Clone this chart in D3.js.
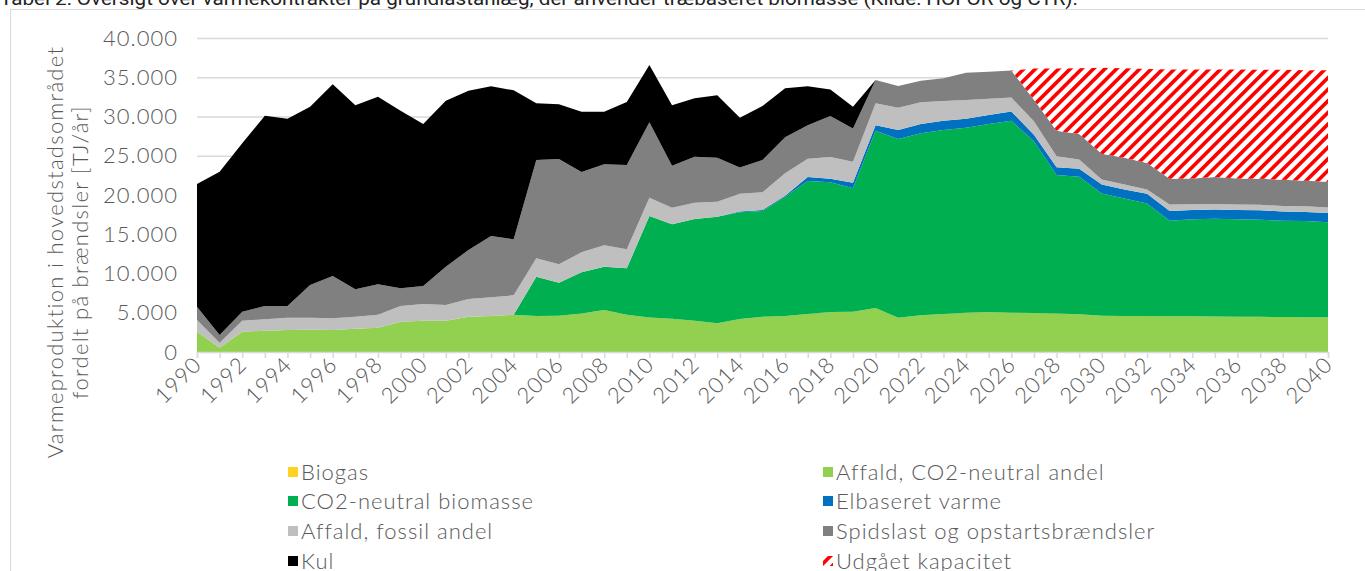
<!DOCTYPE html>
<html><head><meta charset="utf-8">
<script src="https://cdn.jsdelivr.net/npm/d3@7"></script>
<style>
html,body{margin:0;padding:0;background:#fff;overflow:hidden}
text{font-family:Lato,"Open Sans",sans-serif;font-weight:300;}
text.cap{font-family:Roboto,"Open Sans",sans-serif;font-weight:400;}
</style></head>
<body><svg id="c" width="1365" height="571"></svg>
<script>
const years = d3.range(1990, 2041);
const biogas = new Array(51).fill(0);
const affaldCO2 = [2590,550,2590,2720,2800,2850,2800,2950,3100,3860,3990,3990,4500,4590,4750,4590,4620,4920,5350,4750,4410,4250,3990,3650,4200,4500,4590,4840,5100,5140,5610,4370,4670,4840,5010,5100,5000,4970,4900,4820,4620,4600,4580,4560,4540,4520,4500,4480,4460,4440,4420];
const biomasse = [0,0,0,0,0,0,0,0,0,0,0,0,0,0,0,5010,4210,5230,5520,5910,12920,12010,12950,13590,13590,13460,15200,16940,16520,15710,22580,22760,23190,23440,23570,23940,24460,21870,17640,17500,15580,14970,14350,12170,12360,12440,12400,12370,12270,12240,12100];
const elvarme = [0,0,0,0,0,0,0,0,0,0,0,0,0,0,0,0,0,0,0,0,0,0,0,0,110,130,120,500,450,700,690,1150,1180,1180,1140,1150,1170,850,1000,1020,1140,1140,1220,1230,1190,1190,1190,1200,1180,1170,1190];
const affaldFossil = [1490,640,1400,1440,1570,1520,1490,1550,1650,2000,2120,2000,2250,2370,2470,2330,2340,2550,2720,2420,2330,2120,2080,1910,2250,2250,2850,2340,2760,2670,2800,2840,2770,2510,2380,2080,1790,1700,1400,1180,640,630,560,840,740,700,710,710,690,720,710];
const spidslast = [1690,980,1150,1700,1490,4170,5390,3480,3870,2250,2300,4880,6240,7820,7130,12530,13420,10230,10320,10740,9600,5350,5860,5600,3350,4120,4590,4250,5220,4250,2970,2770,2750,2890,3480,3440,3430,2750,3260,3250,3290,3390,3380,3260,3270,3430,3300,3300,3340,3230,3260];
const kul = [15630,20800,21450,24240,23860,22710,24420,23440,23900,22630,20630,21140,20300,19060,18980,7220,6960,7690,6710,8030,7300,7690,7430,7950,6350,6880,6240,4970,3400,2760,0,0,0,0,0,0,0,0,0,0,0,0,0,0,0,0,0,0,0,0,0];
const udgaaet = [0,0,0,0,0,0,0,0,0,0, 0,0,0,0,0,0,0,0,0,0, 0,0,0,0,0,0,0,0,0,0, 0,0,0,0,0,0,0, 3960,7900,8380,10930,11420,11960,13940,13900,13720,13900,13890,14010,14100,14220];
const seriesNames = ["Biogas","Affald, CO2-neutral andel","CO2-neutral biomasse","Elbaseret varme","Affald, fossil andel","Spidslast og opstartsbrændsler","Kul","Udgået kapacitet"];
const yTicks = [0,5000,10000,15000,20000,25000,30000,35000,40000];
const xTickYears = d3.range(1990, 2041, 2);
const caption = "Tabel 2: Oversigt over varmekontrakter på grundlastanlæg, der anvender træbaseret biomasse (Kilde: HOFOR og CTR).";
const yTitle = ["Varmeproduktion i hovedstadsområdet","fordelt på brændsler [TJ/år]"];

const seriesArrays = [biogas, affaldCO2, biomasse, elvarme, affaldFossil, spidslast, kul, udgaaet];
const colors = ["#ffd320","#92d050","#00b050","#0070c0","#bfbfbf","#808080","#000000","url(#hatch)"];

const rows = years.map((y,i)=>{const r={year:y}; seriesNames.forEach((n,k)=>r[n]=seriesArrays[k][i]); return r;});
const stack = d3.stack().keys(seriesNames)(rows);

const svg = d3.select("#c");
const defs = svg.append("defs");
const pat = defs.append("pattern").attr("id","hatch").attr("patternUnits","userSpaceOnUse")
  .attr("width",8.2).attr("height",8.2).attr("patternTransform","rotate(45)");
pat.append("rect").attr("width",8.2).attr("height",8.2).attr("fill","#fff");
pat.append("rect").attr("width",3.6).attr("height",8.2).attr("fill","#ff0000");

// frame
svg.append("rect").attr("x",10.5).attr("y",9.5).attr("width",1370).attr("height",600)
  .attr("fill","none").attr("stroke","#d9d9d9").attr("stroke-width",1);
svg.append("text").attr("class","cap").attr("x",0).attr("y",5).attr("font-size",18).attr("fill","#222")
  .attr("textLength",1078).attr("lengthAdjust","spacingAndGlyphs").text(caption);

const x = d3.scaleLinear().domain([1990,2040]).range([197,1328]);
const y = d3.scaleLinear().domain([0,40000]).range([352,38]);

// grid
svg.append("g").selectAll("line").data(yTicks.filter(d=>d>0)).join("line")
  .attr("x1",197).attr("x2",1328).attr("y1",d=>y(d)+0.5).attr("y2",d=>y(d)+0.5)
  .attr("stroke","#d9d9d9").attr("stroke-width",1.3);

const area = d3.area().x(d=>x(d.data.year)).y0(d=>y(d[0])).y1(d=>y(d[1]));
svg.append("g").selectAll("path").data(stack).join("path")
  .attr("d",area).attr("fill",(d,i)=>colors[i]);

const FS = 22, LS = 1;
// y axis labels
const yAxis = svg.append("g").attr("transform","translate(197,0)")
  .call(d3.axisLeft(y).tickValues(yTicks).tickSize(0).tickPadding(20)
    .tickFormat(d=>d===0?"0":d3.format(",")(d).replace(/,/g,".")));
yAxis.select(".domain").remove();
yAxis.selectAll("text").attr("font-size",FS).attr("fill","#595959")
  .attr("font-family","Lato,'Open Sans',sans-serif").attr("font-weight",300).attr("letter-spacing",LS).attr("dx",LS);

// x axis
const xAxis = svg.append("g").attr("transform","translate(0,352)")
  .call(d3.axisBottom(x).tickValues(years).tickSize(6).tickFormat(""));
xAxis.select(".domain").attr("stroke","#d9d9d9").attr("stroke-width",1.5);
xAxis.selectAll(".tick line").attr("stroke","#d9d9d9").attr("stroke-width",1.5);
svg.append("g").selectAll("text").data(xTickYears).join("text")
  .attr("transform",d=>`translate(${x(d)+6},${366}) rotate(-45)`)
  .attr("text-anchor","end").attr("font-size",FS).attr("fill","#595959").attr("letter-spacing",LS)
  .text(d=>d);

// y title
const yt = svg.append("text").attr("transform","translate(0,252) rotate(-90)")
  .attr("text-anchor","middle").attr("font-size",FS).attr("fill","#595959").attr("letter-spacing",1.3);
yt.append("tspan").attr("x",0).attr("y",63).text(yTitle[0]);
yt.append("tspan").attr("x",0).attr("y",88).text(yTitle[1]);

// legend
const legendPos = [[288,472],[823,472],[288,501],[823,501],[288,531],[823,531],[288,561],[823,561]];
const lg = svg.append("g").selectAll("g").data(seriesNames).join("g")
  .attr("transform",(d,i)=>`translate(${legendPos[i][0]},${legendPos[i][1]})`);
lg.append("rect").attr("x",0).attr("y",-5).attr("width",10).attr("height",10)
  .attr("fill",(d,i)=>colors[i]);
lg.append("text").attr("x",13).attr("y",7.5).attr("font-size",FS).attr("fill","#595959").attr("letter-spacing",LS).text(d=>d);
</script></body></html>
